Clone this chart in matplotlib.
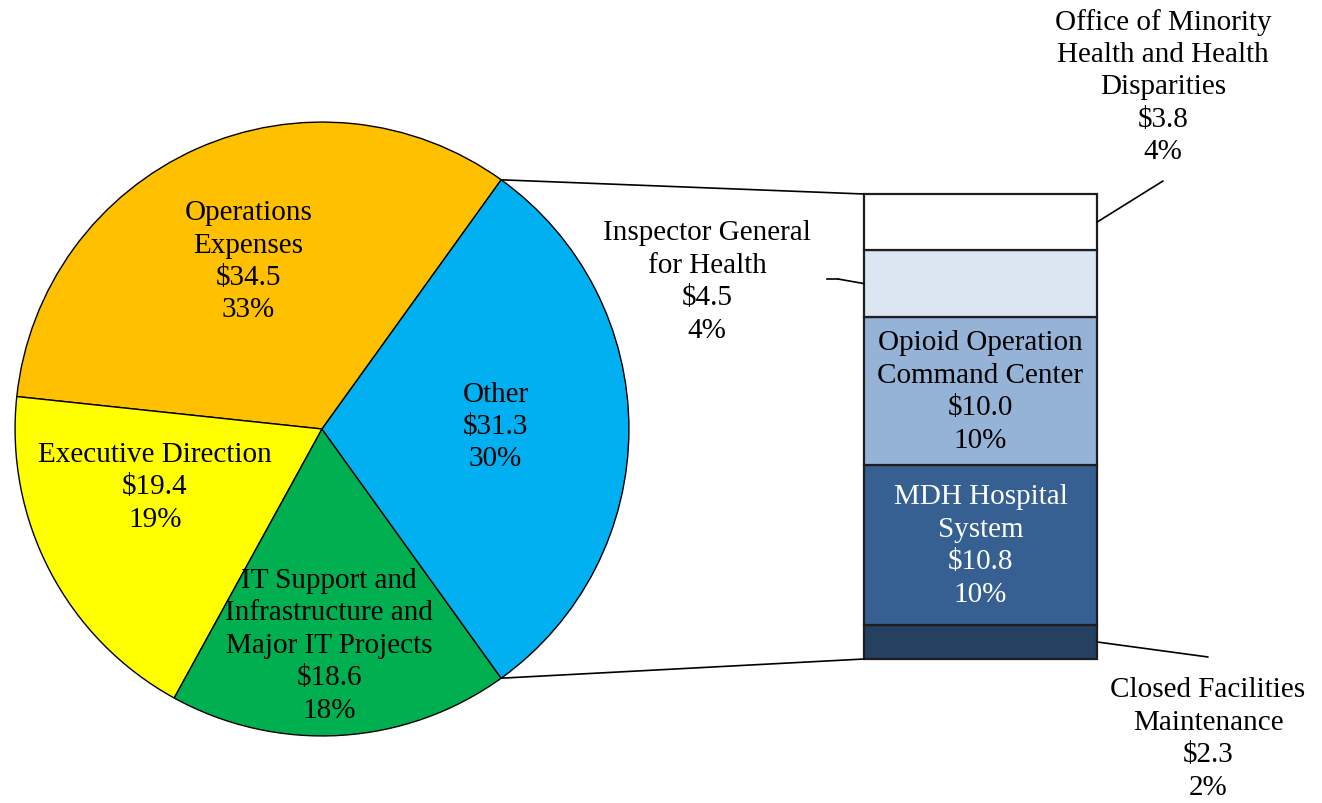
import numpy as np
import matplotlib.pyplot as plt
from matplotlib.patches import ConnectionPatch

plt.rcParams['font.family'] = ['Liberation Serif', 'DejaVu Serif']

# Pie data ($ millions)
pie_names = ['Operations\nExpenses', 'Executive Direction',
             'IT Support and\nInfrastructure and\nMajor IT Projects', 'Other']
pie_values = [34.5, 19.4, 18.6, 31.3]
pie_pcts = ['33%', '19%', '18%', '30%']
pie_colors = ['#FFC000', '#FFFF00', '#00B050', '#00B0F0']

# Breakdown of "Other" (bottom to top)
bar_names = ['Closed Facilities\nMaintenance', 'MDH Hospital\nSystem',
             'Opioid Operation\nCommand Center', 'Inspector General\nfor Health',
             'Office of Minority\nHealth and Health\nDisparities']
bar_values = [2.3, 10.8, 10.0, 4.5, 3.8]
bar_pcts = ['2%', '10%', '10%', '4%', '4%']
bar_colors = ['#254061', '#366092', '#95B3D7', '#DCE6F2', '#FFFFFF']

W, H = 1322, 804
fig = plt.figure(figsize=(W / 100, H / 100), dpi=100)
fs = 21
ls = 1.32

# pie
ax_pie = fig.add_axes([12 / W, 64 / H, 620 / W, 620 / H])
other_half = pie_values[-1] / sum(pie_values) * 180
wedges, _ = ax_pie.pie(pie_values, colors=pie_colors, startangle=other_half,
                       radius=1, wedgeprops=dict(edgecolor='black', linewidth=1.0))
ax_pie.set_xlim(-1.01, 1.01)
ax_pie.set_ylim(-1.01, 1.01)
ax_pie.axis('off')

pie_label_pos = [(-0.239, 0.548), (-0.545, -0.187), (0.023, -0.703), (0.565, 0.010)]
for name, v, p, (x, y) in zip(pie_names, pie_values, pie_pcts, pie_label_pos):
    ax_pie.text(x, y, f'{name}\n${v:.1f}\n{p}', ha='center', va='center',
                fontsize=fs, linespacing=ls)

# stacked bar
total = sum(bar_values)
ax_bar = fig.add_axes([864 / W, 144 / H, 233 / W, 465 / H])
bottoms = np.concatenate([[0], np.cumsum(bar_values)[:-1]])
ax_bar.bar(0, bar_values, width=1, bottom=bottoms, color=bar_colors,
           edgecolor='#1E1E1E', linewidth=1.6, clip_on=False)
ax_bar.set_xlim(-0.5, 0.5)
ax_bar.set_ylim(0, total)
ax_bar.axis('off')

# labels inside bar (Opioid, MDH)
for i, tc in [(1, 'white'), (2, 'black')]:
    ax_bar.text(0, bottoms[i] + bar_values[i] / 2,
                f'{bar_names[i]}\n${bar_values[i]:.1f}\n{bar_pcts[i]}',
                ha='center', va='center', fontsize=fs, color=tc, linespacing=ls)

# overlay in pixel coords for outside labels
ov = fig.add_axes([0, 0, 1, 1], zorder=5)
ov.set_xlim(0, W)
ov.set_ylim(H, 0)
ov.axis('off')
ov.patch.set_alpha(0)

outside = {0: (1208, 739), 3: (707, 282), 4: (1163, 87)}
for i, (x, y) in outside.items():
    ov.text(x, y, f'{bar_names[i]}\n${bar_values[i]:.1f}\n{bar_pcts[i]}',
            ha='center', va='center', fontsize=fs, linespacing=ls)

# leader lines
leaders = [(0.5, bottoms[4] + bar_values[4] / 2, (1163, 182)),
           (0.5, bottoms[0] + bar_values[0] / 2, (1208, 658)),
           (-0.5, bottoms[3] + bar_values[3] / 2, (838, 280))]
for bx, by, pt in leaders:
    fig.add_artist(ConnectionPatch(xyA=(bx, by), coordsA=ax_bar.transData,
                                   xyB=pt, coordsB=ov.transData,
                                   color='black', linewidth=1.2))
ov.plot([827, 838], [280, 280], color='black', linewidth=1.2)

# connector lines from pie "Other" slice to bar
for ang, by in [(other_half, total), (-other_half, 0)]:
    a = np.deg2rad(ang)
    fig.add_artist(ConnectionPatch(xyA=(np.cos(a), np.sin(a)), coordsA=ax_pie.transData,
                                   xyB=(-0.5, by), coordsB=ax_bar.transData,
                                   color='black', linewidth=1.2))

fig.savefig('out.png', dpi=100)
